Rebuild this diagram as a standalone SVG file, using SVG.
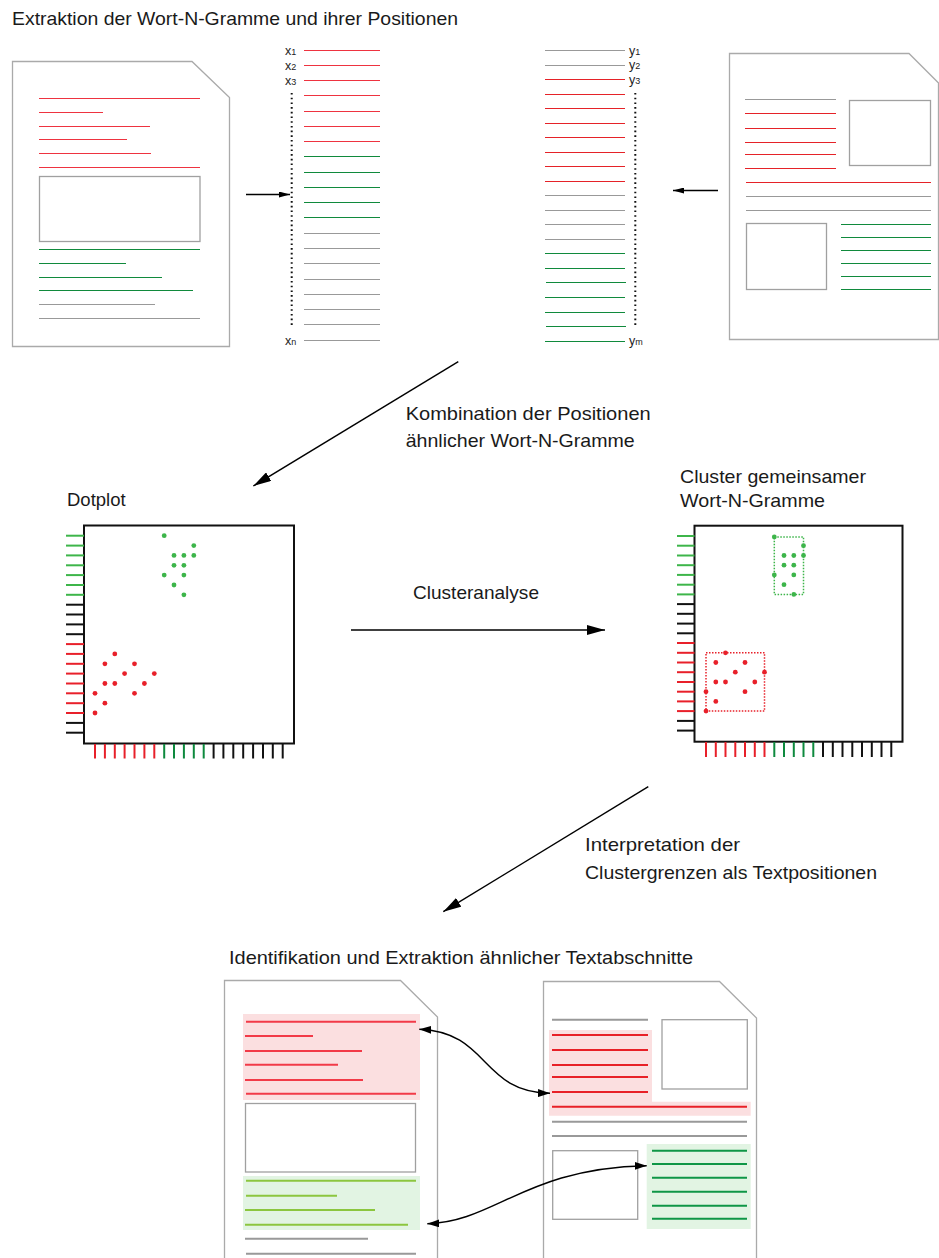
<svg xmlns="http://www.w3.org/2000/svg" width="939" height="1258" viewBox="0 0 939 1258">
<style>
.doc{fill:#fff;stroke:#aaa;stroke-width:1.3}
.box{fill:#fff;stroke:#a0a0a0;stroke-width:1.3}
.r{stroke:#ee3340;stroke-width:1.1}
.r2{stroke:#e52228;stroke-width:1.1}
.g{stroke:#108a3c;stroke-width:1.1}
.k{stroke:#999;stroke-width:1.1}
.k2{stroke:#999;stroke-width:2}
.rb{stroke:#f23a48;stroke-width:2}
.rb2{stroke:#e82027;stroke-width:2}
.lime{stroke:#8cc63f;stroke-width:2}
.gb{stroke:#0e9646;stroke-width:2}
.lbl{font-family:"Liberation Sans",Arial,sans-serif;font-size:18.5px;fill:#1a1a1a}
.sm{font-family:"Liberation Sans",Arial,sans-serif;font-size:12.5px;fill:#222}
.sub{font-size:9px}
.dots{stroke:#111;stroke-width:2;stroke-dasharray:1.6 3.1;fill:none}
.frame{fill:#fff;stroke:#111;stroke-width:2}
.tr{stroke:#e8202a;stroke-width:2}
.tg{stroke:#3db54a;stroke-width:2}
.tgd{stroke:#0e8a3e;stroke-width:2}
.tk{stroke:#111;stroke-width:2}
.dr{fill:#e8202a}
.dg{fill:#3db54a}
.conn{stroke:#000;stroke-width:1.4;fill:none}
</style>
<defs>
<marker id="ah" viewBox="0 0 18 10" refX="18" refY="5" markerWidth="18" markerHeight="10" markerUnits="userSpaceOnUse" orient="auto"><path d="M0,0 L18,5 L0,10 z" fill="#000"/></marker>
<marker id="ahs" viewBox="0 0 11 6" refX="11" refY="3" markerWidth="11" markerHeight="6" markerUnits="userSpaceOnUse" orient="auto"><path d="M0,0 L11,3 L0,6 z" fill="#000"/></marker>
<marker id="ahc" viewBox="0 0 12 8" refX="12" refY="4" markerWidth="12" markerHeight="8" markerUnits="userSpaceOnUse" orient="auto-start-reverse"><path d="M0,0 L12,4 L0,8 z" fill="#000"/></marker>
</defs>
<rect width="939" height="1258" fill="#fff"/>

<text id="title" class="lbl" x="12" y="25" textLength="446" lengthAdjust="spacingAndGlyphs">Extraktion der Wort-N-Gramme und ihrer Positionen</text>

<g id="doc-a">
<path class="doc" d="M12.5 61.5 H192 L229.5 97.5 V346.5 H12.5 Z"/>
<line class="r" x1="39" y1="98.5" x2="200" y2="98.5"/>
<line class="r" x1="39" y1="112.5" x2="103" y2="112.5"/>
<line class="r" x1="39" y1="126.5" x2="150" y2="126.5"/>
<line class="r" x1="39" y1="139.5" x2="127" y2="139.5"/>
<line class="r" x1="39" y1="153.5" x2="151" y2="153.5"/>
<line class="r" x1="39" y1="167.5" x2="200" y2="167.5"/>
<rect class="box" x="39.5" y="176.5" width="160.5" height="65"/>
<line class="g" x1="39" y1="249.5" x2="200" y2="249.5"/>
<line class="g" x1="39" y1="263.5" x2="126" y2="263.5"/>
<line class="g" x1="39" y1="277.5" x2="162" y2="277.5"/>
<line class="g" x1="39" y1="290.5" x2="193" y2="290.5"/>
<line class="k" x1="39" y1="304.5" x2="155" y2="304.5"/>
<line class="k" x1="39" y1="318.5" x2="200" y2="318.5"/>
</g>

<g id="list-x">
<text class="sm" x="285" y="54.5">x<tspan class="sub">1</tspan></text>
<text class="sm" x="285" y="69.5">x<tspan class="sub">2</tspan></text>
<text class="sm" x="285" y="84.5">x<tspan class="sub">3</tspan></text>
<text class="sm" x="285" y="344.5">x<tspan class="sub">n</tspan></text>
<line class="dots" x1="291.7" y1="93" x2="291.7" y2="328"/>
<line class="r" x1="304" y1="50.5" x2="380" y2="50.5"/>
<line class="r" x1="304" y1="65.5" x2="380" y2="65.5"/>
<line class="r" x1="304" y1="80.5" x2="380" y2="80.5"/>
<line class="r" x1="304" y1="95.5" x2="380" y2="95.5"/>
<line class="r" x1="304" y1="111.5" x2="380" y2="111.5"/>
<line class="r" x1="304" y1="126.5" x2="380" y2="126.5"/>
<line class="r" x1="304" y1="141.5" x2="380" y2="141.5"/>
<line class="g" x1="304" y1="156.5" x2="380" y2="156.5"/>
<line class="g" x1="304" y1="172.5" x2="380" y2="172.5"/>
<line class="g" x1="304" y1="187.5" x2="380" y2="187.5"/>
<line class="g" x1="304" y1="202.5" x2="380" y2="202.5"/>
<line class="g" x1="304" y1="217.5" x2="380" y2="217.5"/>
<line class="k" x1="304" y1="233.5" x2="380" y2="233.5"/>
<line class="k" x1="304" y1="248.5" x2="380" y2="248.5"/>
<line class="k" x1="304" y1="263.5" x2="380" y2="263.5"/>
<line class="k" x1="304" y1="279.5" x2="380" y2="279.5"/>
<line class="k" x1="304" y1="294.5" x2="380" y2="294.5"/>
<line class="k" x1="304" y1="309.5" x2="380" y2="309.5"/>
<line class="k" x1="304" y1="324.5" x2="380" y2="324.5"/>
<line class="k" x1="304" y1="340.5" x2="380" y2="340.5"/>
</g>

<g id="list-y">
<text class="sm" x="629" y="54.5">y<tspan class="sub">1</tspan></text>
<text class="sm" x="629" y="69">y<tspan class="sub">2</tspan></text>
<text class="sm" x="629" y="83.5">y<tspan class="sub">3</tspan></text>
<text class="sm" x="629" y="345">y<tspan class="sub">m</tspan></text>
<line class="dots" x1="635.3" y1="93" x2="635.3" y2="327"/>
<line class="k" x1="545" y1="50.5" x2="625" y2="50.5"/>
<line class="k" x1="545" y1="65.5" x2="625" y2="65.5"/>
<line class="r2" x1="545" y1="79.5" x2="625" y2="79.5"/>
<line class="r2" x1="545" y1="94.5" x2="625" y2="94.5"/>
<line class="r2" x1="545" y1="108.5" x2="625" y2="108.5"/>
<line class="r2" x1="545" y1="123.5" x2="625" y2="123.5"/>
<line class="r2" x1="545" y1="137.5" x2="625" y2="137.5"/>
<line class="r2" x1="545" y1="152.5" x2="625" y2="152.5"/>
<line class="r2" x1="545" y1="166.5" x2="625" y2="166.5"/>
<line class="r2" x1="545" y1="181.5" x2="625" y2="181.5"/>
<line class="k" x1="545" y1="195.5" x2="625" y2="195.5"/>
<line class="k" x1="545" y1="210.5" x2="625" y2="210.5"/>
<line class="k" x1="545" y1="224.5" x2="625" y2="224.5"/>
<line class="k" x1="545" y1="239.5" x2="625" y2="239.5"/>
<line class="g" x1="545" y1="253.5" x2="625" y2="253.5"/>
<line class="g" x1="545" y1="268.5" x2="625" y2="268.5"/>
<line class="g" x1="546" y1="282.5" x2="626" y2="282.5"/>
<line class="g" x1="545" y1="297.5" x2="625" y2="297.5"/>
<line class="g" x1="545" y1="312.5" x2="625" y2="312.5"/>
<line class="g" x1="546" y1="326.5" x2="626" y2="326.5"/>
<line class="g" x1="545" y1="341.5" x2="625" y2="341.5"/>
</g>

<g id="doc-b">
<path class="doc" d="M729.5 53.5 H909 L938.5 83 V339.5 H729.5 Z"/>
<line class="k" x1="745" y1="99.5" x2="836" y2="99.5"/>
<line class="r2" x1="745" y1="113.5" x2="836" y2="113.5"/>
<line class="r2" x1="745" y1="128.5" x2="836" y2="128.5"/>
<line class="r2" x1="745" y1="142.5" x2="836" y2="142.5"/>
<line class="r2" x1="745" y1="154.5" x2="836" y2="154.5"/>
<line class="r2" x1="745" y1="168.5" x2="836" y2="168.5"/>
<rect class="box" x="849.5" y="100.5" width="81" height="65"/>
<line class="r2" x1="746" y1="182.5" x2="931" y2="182.5"/>
<line class="k" x1="746" y1="196.5" x2="931" y2="196.5"/>
<line class="k" x1="746" y1="210.5" x2="931" y2="210.5"/>
<rect class="box" x="746.5" y="223.5" width="80" height="66"/>
<line class="g" x1="841" y1="224.5" x2="931" y2="224.5"/>
<line class="g" x1="841" y1="237.5" x2="931" y2="237.5"/>
<line class="g" x1="841" y1="250.5" x2="931" y2="250.5"/>
<line class="g" x1="841" y1="263.5" x2="931" y2="263.5"/>
<line class="g" x1="841" y1="276.5" x2="931" y2="276.5"/>
<line class="g" x1="841" y1="289.5" x2="931" y2="289.5"/>
</g>

<g id="dotplot">
<text class="lbl" x="67" y="506">Dotplot</text>
<rect class="frame" x="84" y="525.5" width="210" height="218"/>
<g class="tg"><line x1="66" y1="535.7" x2="84" y2="535.7"/><line x1="66" y1="545.6" x2="84" y2="545.6"/><line x1="66" y1="555.4" x2="84" y2="555.4"/><line x1="66" y1="565.3" x2="84" y2="565.3"/><line x1="66" y1="575.1" x2="84" y2="575.1"/><line x1="66" y1="585" x2="84" y2="585"/><line x1="66" y1="594.8" x2="84" y2="594.8"/></g>
<g class="tk"><line x1="66" y1="604.7" x2="84" y2="604.7"/><line x1="66" y1="614.5" x2="84" y2="614.5"/><line x1="66" y1="624.4" x2="84" y2="624.4"/><line x1="66" y1="634.2" x2="84" y2="634.2"/></g>
<g class="tr"><line x1="66" y1="644.1" x2="84" y2="644.1"/><line x1="66" y1="653.9" x2="84" y2="653.9"/><line x1="66" y1="663.8" x2="84" y2="663.8"/><line x1="66" y1="673.6" x2="84" y2="673.6"/><line x1="66" y1="683.5" x2="84" y2="683.5"/><line x1="66" y1="693.3" x2="84" y2="693.3"/><line x1="66" y1="703.2" x2="84" y2="703.2"/><line x1="66" y1="713" x2="84" y2="713"/></g>
<g class="tk"><line x1="66" y1="722.9" x2="84" y2="722.9"/><line x1="66" y1="732.7" x2="84" y2="732.7"/></g>
<g class="tr"><line x1="95" y1="744" x2="95" y2="758.5"/><line x1="104.9" y1="744" x2="104.9" y2="758.5"/><line x1="114.8" y1="744" x2="114.8" y2="758.5"/><line x1="124.6" y1="744" x2="124.6" y2="758.5"/><line x1="134.5" y1="744" x2="134.5" y2="758.5"/><line x1="144.4" y1="744" x2="144.4" y2="758.5"/><line x1="154.3" y1="744" x2="154.3" y2="758.5"/></g>
<g class="tgd"><line x1="164.2" y1="744" x2="164.2" y2="758.5"/><line x1="174" y1="744" x2="174" y2="758.5"/><line x1="183.9" y1="744" x2="183.9" y2="758.5"/><line x1="193.8" y1="744" x2="193.8" y2="758.5"/><line x1="203.7" y1="744" x2="203.7" y2="758.5"/></g>
<g class="tk"><line x1="213.6" y1="744" x2="213.6" y2="758.5"/><line x1="223.4" y1="744" x2="223.4" y2="758.5"/><line x1="233.3" y1="744" x2="233.3" y2="758.5"/><line x1="243.2" y1="744" x2="243.2" y2="758.5"/><line x1="253.1" y1="744" x2="253.1" y2="758.5"/><line x1="263" y1="744" x2="263" y2="758.5"/><line x1="272.8" y1="744" x2="272.8" y2="758.5"/><line x1="282.7" y1="744" x2="282.7" y2="758.5"/></g>
<g class="dg"><circle cx="164.2" cy="535.7" r="2.4"/><circle cx="193.8" cy="545.6" r="2.4"/><circle cx="174" cy="555.4" r="2.4"/><circle cx="183.9" cy="555.4" r="2.4"/><circle cx="193.8" cy="555.4" r="2.4"/><circle cx="174" cy="565.3" r="2.4"/><circle cx="183.9" cy="565.3" r="2.4"/><circle cx="164.2" cy="575.1" r="2.4"/><circle cx="183.9" cy="575.1" r="2.4"/><circle cx="174" cy="585" r="2.4"/><circle cx="183.9" cy="594.8" r="2.4"/></g>
<g class="dr"><circle cx="114.8" cy="653.9" r="2.4"/><circle cx="104.9" cy="663.8" r="2.4"/><circle cx="134.5" cy="663.8" r="2.4"/><circle cx="124.6" cy="673.6" r="2.4"/><circle cx="154.3" cy="673.6" r="2.4"/><circle cx="104.9" cy="683.5" r="2.4"/><circle cx="114.8" cy="683.5" r="2.4"/><circle cx="144.4" cy="683.5" r="2.4"/><circle cx="95" cy="693.3" r="2.4"/><circle cx="134.5" cy="693.3" r="2.4"/><circle cx="104.9" cy="703.2" r="2.4"/><circle cx="95" cy="713" r="2.4"/></g>
</g>

<g id="clusterplot">
<text class="lbl" x="680" y="482.5" textLength="186" lengthAdjust="spacingAndGlyphs">Cluster gemeinsamer</text>
<text class="lbl" x="680" y="506.5" textLength="145" lengthAdjust="spacingAndGlyphs">Wort-N-Gramme</text>
<rect class="frame" x="694.5" y="525.7" width="208" height="216"/>
<g class="tg"><line x1="677" y1="536" x2="694.5" y2="536"/><line x1="677" y1="545.7" x2="694.5" y2="545.7"/><line x1="677" y1="555.5" x2="694.5" y2="555.5"/><line x1="677" y1="565.2" x2="694.5" y2="565.2"/><line x1="677" y1="574.9" x2="694.5" y2="574.9"/><line x1="677" y1="584.7" x2="694.5" y2="584.7"/><line x1="677" y1="594.4" x2="694.5" y2="594.4"/></g>
<g class="tk"><line x1="677" y1="604.1" x2="694.5" y2="604.1"/><line x1="677" y1="613.8" x2="694.5" y2="613.8"/><line x1="677" y1="623.6" x2="694.5" y2="623.6"/><line x1="677" y1="633.3" x2="694.5" y2="633.3"/></g>
<g class="tr"><line x1="677" y1="643" x2="694.5" y2="643"/><line x1="677" y1="652.8" x2="694.5" y2="652.8"/><line x1="677" y1="662.5" x2="694.5" y2="662.5"/><line x1="677" y1="672.2" x2="694.5" y2="672.2"/><line x1="677" y1="682" x2="694.5" y2="682"/><line x1="677" y1="691.7" x2="694.5" y2="691.7"/><line x1="677" y1="701.4" x2="694.5" y2="701.4"/><line x1="677" y1="711.1" x2="694.5" y2="711.1"/></g>
<g class="tk"><line x1="677" y1="720.9" x2="694.5" y2="720.9"/><line x1="677" y1="730.6" x2="694.5" y2="730.6"/></g>
<g class="tr"><line x1="706" y1="742" x2="706" y2="757"/><line x1="715.8" y1="742" x2="715.8" y2="757"/><line x1="725.5" y1="742" x2="725.5" y2="757"/><line x1="735.3" y1="742" x2="735.3" y2="757"/><line x1="745" y1="742" x2="745" y2="757"/><line x1="754.8" y1="742" x2="754.8" y2="757"/><line x1="764.5" y1="742" x2="764.5" y2="757"/></g>
<g class="tgd"><line x1="774.3" y1="742" x2="774.3" y2="757"/><line x1="784" y1="742" x2="784" y2="757"/><line x1="793.8" y1="742" x2="793.8" y2="757"/><line x1="803.5" y1="742" x2="803.5" y2="757"/><line x1="813.3" y1="742" x2="813.3" y2="757"/></g>
<g class="tk"><line x1="823" y1="742" x2="823" y2="757"/><line x1="832.8" y1="742" x2="832.8" y2="757"/><line x1="842.5" y1="742" x2="842.5" y2="757"/><line x1="852.3" y1="742" x2="852.3" y2="757"/><line x1="862" y1="742" x2="862" y2="757"/><line x1="871.8" y1="742" x2="871.8" y2="757"/><line x1="881.5" y1="742" x2="881.5" y2="757"/><line x1="891.3" y1="742" x2="891.3" y2="757"/></g>
<rect x="774.3" y="537" width="29.2" height="57.4" fill="none" stroke="#3db54a" stroke-width="1.5" stroke-dasharray="1.5 1.5"/>
<rect x="706" y="652.8" width="58.5" height="58.3" fill="none" stroke="#e8202a" stroke-width="1.5" stroke-dasharray="1.5 1.5"/>
<g class="dg"><circle cx="774.3" cy="537" r="2.4"/><circle cx="803.5" cy="545.7" r="2.4"/><circle cx="784" cy="555.5" r="2.4"/><circle cx="793.8" cy="555.5" r="2.4"/><circle cx="803.5" cy="555.5" r="2.4"/><circle cx="784" cy="565.2" r="2.4"/><circle cx="793.8" cy="565.2" r="2.4"/><circle cx="774.3" cy="574.9" r="2.4"/><circle cx="793.8" cy="574.9" r="2.4"/><circle cx="784" cy="584.7" r="2.4"/><circle cx="793.8" cy="594.4" r="2.4"/></g>
<g class="dr"><circle cx="725.5" cy="652.8" r="2.4"/><circle cx="715.8" cy="662.5" r="2.4"/><circle cx="745" cy="662.5" r="2.4"/><circle cx="735.3" cy="672.2" r="2.4"/><circle cx="764.5" cy="672.2" r="2.4"/><circle cx="715.8" cy="682" r="2.4"/><circle cx="725.5" cy="682" r="2.4"/><circle cx="754.8" cy="682" r="2.4"/><circle cx="706" cy="691.7" r="2.4"/><circle cx="745" cy="691.7" r="2.4"/><circle cx="715.8" cy="701.4" r="2.4"/><circle cx="706" cy="711.1" r="2.4"/></g>
</g>

<text id="result-title" class="lbl" x="229" y="963.5" textLength="464" lengthAdjust="spacingAndGlyphs">Identifikation und Extraktion ähnlicher Textabschnitte</text>

<g id="doc-a-result">
<path class="doc" d="M224.5 1262 V980.5 H400.5 L437.5 1017 V1262"/>
<rect x="243" y="1014" width="177" height="86" fill="#fbdfe0"/>
<line class="rb" x1="246" y1="1021.7" x2="416" y2="1021.7"/>
<line class="rb" x1="245" y1="1036" x2="313" y2="1036"/>
<line class="rb" x1="245" y1="1051" x2="362" y2="1051"/>
<line class="rb" x1="245" y1="1064.7" x2="338" y2="1064.7"/>
<line class="rb" x1="245" y1="1080" x2="363" y2="1080"/>
<line class="rb" x1="246" y1="1093.7" x2="416" y2="1093.7"/>
<rect class="box" x="245.5" y="1103.5" width="170" height="68.5"/>
<rect x="243" y="1176" width="177" height="54" fill="#e2f4e3"/>
<line class="lime" x1="246" y1="1180.7" x2="416" y2="1180.7"/>
<line class="lime" x1="246" y1="1195.7" x2="337" y2="1195.7"/>
<line class="lime" x1="245" y1="1210" x2="375" y2="1210"/>
<line class="lime" x1="245" y1="1224.7" x2="408" y2="1224.7"/>
<line class="k2" x1="245" y1="1238.7" x2="368" y2="1238.7"/>
<line class="k2" x1="246" y1="1253.7" x2="416" y2="1253.7"/>
</g>

<g id="doc-b-result">
<path class="doc" d="M543.5 1262 V981.5 H719.5 L756.5 1018 V1262"/>
<line class="k2" x1="552" y1="1019.7" x2="648" y2="1019.7"/>
<path d="M549 1030 H652 V1101.7 H750.7 V1115.7 H549 Z" fill="#fbdfe0"/>
<line class="rb2" x1="552" y1="1035" x2="648" y2="1035"/>
<line class="rb2" x1="552" y1="1050" x2="648" y2="1050"/>
<line class="rb2" x1="552" y1="1065" x2="648" y2="1065"/>
<line class="rb2" x1="552" y1="1077" x2="648" y2="1077"/>
<line class="rb2" x1="552" y1="1092" x2="648" y2="1092"/>
<line class="rb2" x1="552" y1="1106.7" x2="747" y2="1106.7"/>
<rect class="box" x="662" y="1019.7" width="85.3" height="69.3"/>
<line class="k2" x1="552" y1="1121.7" x2="747" y2="1121.7"/>
<line class="k2" x1="552" y1="1136" x2="747" y2="1136"/>
<rect class="box" x="552.7" y="1150.7" width="85" height="68.6"/>
<rect x="646.7" y="1144" width="104" height="85" fill="#e2f4e3"/>
<line class="gb" x1="652" y1="1150.7" x2="747" y2="1150.7"/>
<line class="gb" x1="652" y1="1164" x2="747" y2="1164"/>
<line class="gb" x1="652" y1="1177.7" x2="747" y2="1177.7"/>
<line class="gb" x1="652" y1="1191.7" x2="747" y2="1191.7"/>
<line class="gb" x1="652" y1="1205.7" x2="747" y2="1205.7"/>
<line class="gb" x1="652" y1="1218.7" x2="747" y2="1218.7"/>
</g>

<g id="step-labels">
<text class="lbl" x="405.7" y="420" textLength="245" lengthAdjust="spacingAndGlyphs">Kombination der Positionen</text>
<text class="lbl" x="405.7" y="446.7" textLength="229" lengthAdjust="spacingAndGlyphs">ähnlicher Wort-N-Gramme</text>
<text class="lbl" x="413" y="599" textLength="126" lengthAdjust="spacingAndGlyphs">Clusteranalyse</text>
<text class="lbl" x="585" y="851" textLength="155" lengthAdjust="spacingAndGlyphs">Interpretation der</text>
<text class="lbl" x="585" y="879" textLength="292" lengthAdjust="spacingAndGlyphs">Clustergrenzen als Textpositionen</text>
</g>

<g id="connectors">
<line class="conn" x1="246" y1="194.5" x2="290" y2="194.5" marker-end="url(#ahs)"/>
<line class="conn" x1="718" y1="190.5" x2="673" y2="190.5" marker-end="url(#ahs)"/>
<line class="conn" x1="458.3" y1="361.7" x2="253.3" y2="486" marker-end="url(#ah)"/>
<line class="conn" x1="351" y1="630" x2="605" y2="630" marker-end="url(#ah)"/>
<line class="conn" x1="648.3" y1="786.7" x2="443.3" y2="911.7" marker-end="url(#ah)"/>
<path class="conn" d="M419.3 1029.3 C490 1032 480 1092 550 1093.3" marker-start="url(#ahc)" marker-end="url(#ahc)"/>
<path class="conn" d="M427.3 1223.7 C495 1222 525 1168 646.7 1165.7" marker-start="url(#ahc)" marker-end="url(#ahc)"/>
</g>
</svg>
